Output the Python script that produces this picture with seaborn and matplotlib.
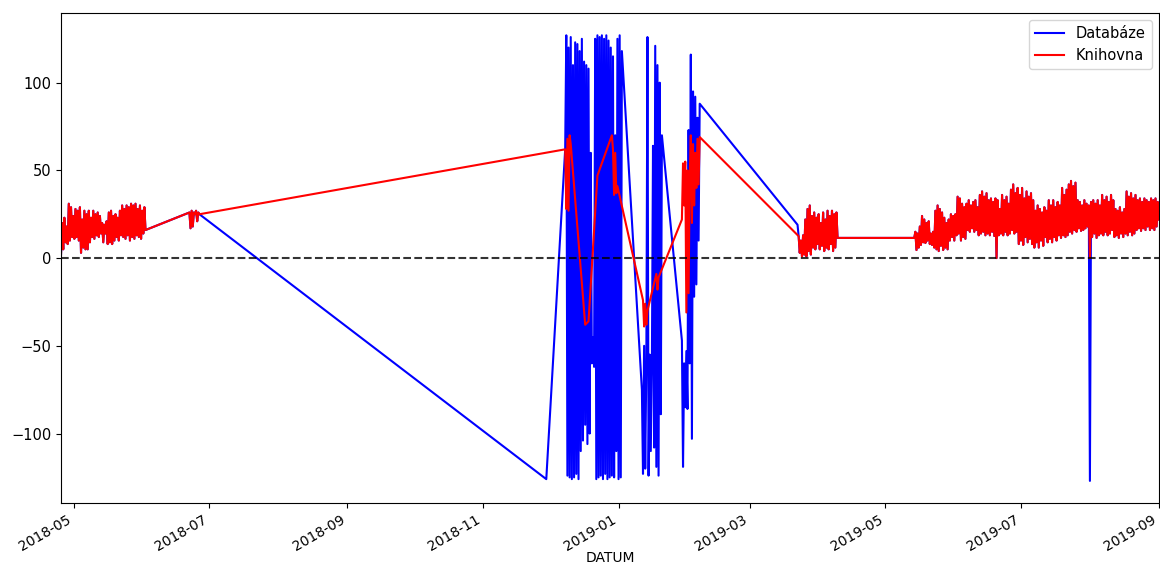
import pandas as pd
import seaborn as sns
import matplotlib.pyplot as plt
import matplotlib.dates as mdates

# --- readings shared by both sources (every 12 h from the start time) ---
seg_a_start = '2018-04-25 06:00'
seg_a = [2, 20, 5, 23, 9, 18, 8, 31, 10, 29, 12, 24, 11, 28, 12, 27, 10, 29,
         3, 22, 6, 27, 5, 25, 5, 27, 9, 23, 12, 27, 11, 25, 13, 26, 12, 24,
         14, 20, 9, 19, 14, 21, 8, 26, 9, 27, 8, 24, 10, 25, 12, 23, 10, 27,
         13, 30, 12, 28, 11, 30, 13, 29, 10, 31, 12, 30, 11, 31, 13, 28, 12, 30,
         11, 27, 14, 29, 16]

seg_b_start = '2018-06-22 00:00'
seg_b = [26, 17, 27, 18, 26, 25, 27, 21, 26, 25]

seg_d_start = '2019-03-23 00:00'
seg_d = [12.5, 3, 10, 1, 13, 2, 22, 1, 28, 4, 30, 2, 24, 6, 26, 5, 23, 8,
         25, 5, 20, 7, 26, 4, 22, 6, 27, 5, 24, 8, 27, 4, 25, 6, 26, 11.5]

seg_e_start = '2019-05-14 00:00'
seg_e = [11.5, 15, 4.6, 14, 6, 18, 7.5, 24, 9, 22, 8.6, 20, 10, 21, 8, 14,
         7.5, 15, 6, 27, 5, 30, 4, 28, 7, 26, 4.6, 23, 6, 20, 5, 22,
         10, 25, 12, 24, 10, 25, 13, 35, 14, 34, 10, 31, 12, 29, 11, 31,
         16, 33, 15, 30, 17, 32, 15, 33, 16, 29, 13, 36, 14, 38, 15, 35,
         13, 37, 14, 33, 13, 34, 15, 32, 12.6, 34, 0, 33, 13, 28, 14, 36,
         13, 33, 15, 35, 13, 31, 14, 39, 16, 42, 14, 37, 15, 40, 8, 36,
         10, 40, 7.5, 34, 12, 38, 9, 35, 11, 37, 8, 33, 6, 27, 9, 30,
         6, 28, 10, 26, 7, 29, 12, 27, 9, 33, 11, 30, 9, 33, 12, 29,
         10, 32, 13, 30, 11.5, 40, 13, 36, 12, 39, 13, 42, 15, 44, 14, 41,
         16, 43, 15, 33, 17, 32, 15.5, 30, 16, 33, 17, 31, 18, 30, 0, 32,
         12, 33, 14, 31, 11.5, 33, 13, 30, 14, 36, 13, 33, 15, 35, 13, 32,
         14, 36, 16, 33, 12, 28, 13, 27, 11.5, 29, 14, 26, 12, 28, 14, 38,
         13, 35, 15, 37, 13, 34, 14, 36, 16, 33, 17, 34, 15.5, 32, 17, 34,
         16, 33, 18, 32, 16, 34, 17, 33, 16, 34, 18, 32, 22]

# --- Databaze only ---
db_c1_start = '2018-12-08 00:00'
db_c1 = [62, 127, -124, 120, -125, 126, -126, 110, -125, 123, -123, 122,
         -126, 118, -110, 125, -104, 112, -95, 110, -106, 108, -100, 60,
         -60, -45, -62, 125, -126, 127, -125, 126, -124, 127, -126, 125,
         -123, 127, -126, 124, -125, 120, -124, 115, -125, 70, -110, 125,
         -126, 127, -125, 118]
db_c2_start = '2019-01-11 12:00'
db_c2 = [-75, -123, -50, -120, -60, 126, -124, -55, -110, -60, 64, -108,
         121, -119, 110, -124, 100, -89, 70]
db_c3_start = '2019-01-29 12:00'
db_c3 = [-47, -119, -60, -85, -53, -86, 73, -60, 116, -103, 95, -22,
         92, -15, 80, 10, 88]
db_dates = ['2018-11-29 12:00', '2019-03-22 12:00']
db_vals = [-126, 19]
db_spike_date = '2019-08-01 00:00'
db_spike_val = -127

# --- Knihovna only ---
kn_dates = ['2018-12-08 00:00', '2018-12-08 12:00', '2018-12-09 00:00',
            '2018-12-09 12:00', '2018-12-10 00:00', '2018-12-10 12:00',
            '2018-12-17 00:00', '2018-12-18 12:00', '2018-12-22 12:00',
            '2018-12-29 00:00', '2018-12-29 12:00', '2018-12-30 00:00',
            '2018-12-30 12:00', '2018-12-31 00:00', '2018-12-31 12:00',
            '2019-01-12 00:00', '2019-01-12 12:00', '2019-01-13 00:00',
            '2019-01-13 12:00', '2019-01-14 00:00', '2019-01-18 00:00',
            '2019-01-18 12:00', '2019-01-19 00:00']
kn_vals = [62, 28, 68, 27, 70, 65, -38, -36, 47, 70, 62, 36, 60, 37, 41,
           -24, -39, -26, -38, -30, -9, -18, -11]
kn_c3_start = '2019-01-29 12:00'
kn_c3 = [22, 54, 30, 55, -31, 50, -20, 45, 70, 20, 65, 30, 60, 40, 68, 42, 69]


def run(start, vals):
    return pd.Series(vals, index=pd.date_range(start, periods=len(vals), freq='12h'))


shared = [run(seg_a_start, seg_a), run(seg_b_start, seg_b),
          run(seg_d_start, seg_d), run(seg_e_start, seg_e)]

db = pd.concat(shared + [run(db_c1_start, db_c1), run(db_c2_start, db_c2),
                         run(db_c3_start, db_c3),
                         pd.Series(db_vals, index=pd.to_datetime(db_dates))]).sort_index()
db[pd.Timestamp(db_spike_date)] = db_spike_val

kn = pd.concat(shared + [pd.Series(kn_vals, index=pd.to_datetime(kn_dates)),
                         run(kn_c3_start, kn_c3)]).sort_index()

df = pd.concat([
    db.rename_axis('DATUM').reset_index(name='hodnota').assign(zdroj='Databáze'),
    kn.rename_axis('DATUM').reset_index(name='hodnota').assign(zdroj='Knihovna'),
])

fig, ax = plt.subplots(figsize=(11.6, 5.66), dpi=100)
sns.lineplot(data=df, x='DATUM', y='hodnota', hue='zdroj',
             palette={'Databáze': 'blue', 'Knihovna': 'red'},
             estimator=None, errorbar=None, linewidth=1.5, ax=ax)
ax.axhline(0, color='black', linestyle='--', alpha=0.8)

ax.set_xlim(df['DATUM'].min(), df['DATUM'].max())
ax.xaxis.set_major_locator(mdates.MonthLocator(bymonth=[1, 3, 5, 7, 9, 11]))
ax.xaxis.set_major_formatter(mdates.DateFormatter('%Y-%m'))
ax.tick_params(axis='y', labelsize=10.5)
ax.tick_params(axis='x', labelsize=10)
plt.setp(ax.get_xticklabels(), rotation=30, ha='right')
ax.set_xlabel('DATUM', fontsize=10)
ax.xaxis.set_label_coords(0.5, -0.097)
ax.set_ylabel('')
sns.move_legend(ax, 'upper right', title=None, fontsize=10.5)

fig.subplots_adjust(left=0.0526, right=0.999, top=0.977, bottom=0.111)
fig.savefig('out.png', dpi=100)
